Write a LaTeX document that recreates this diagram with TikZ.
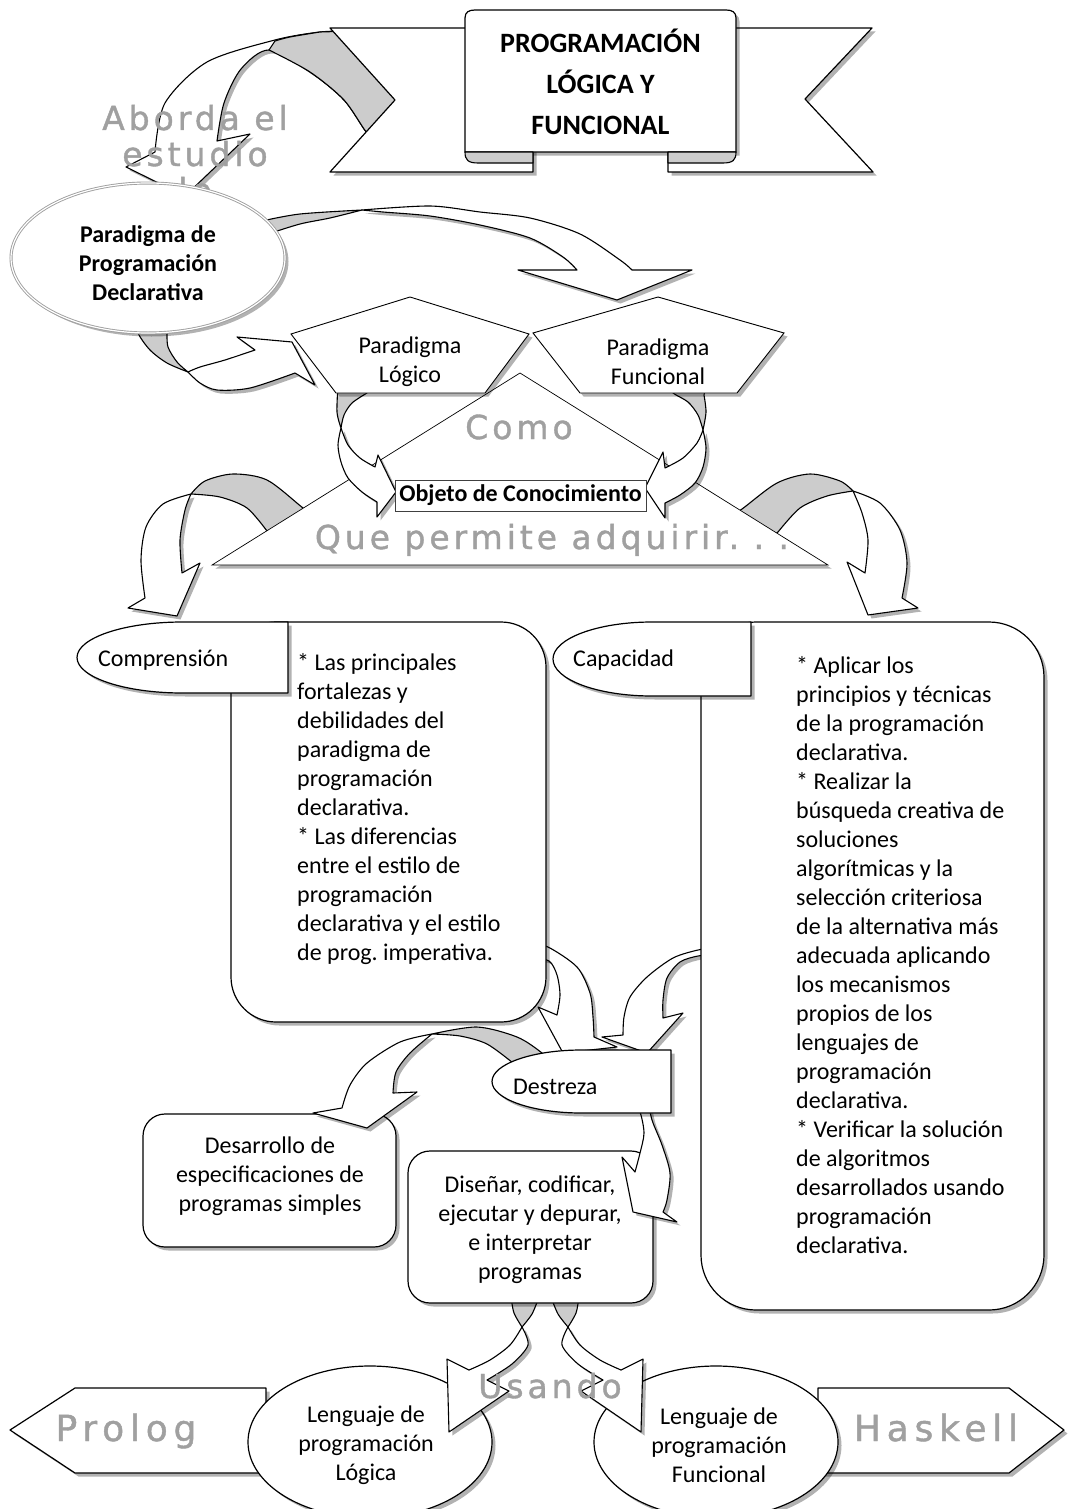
\documentclass[tikz,border=0pt]{standalone}
\usepackage{fontspec}
\setmainfont{Carlito}
\newfontfamily\wordartA{DejaVu Sans}[LetterSpace=12,FakeBold=1.2]
\newfontfamily\wordartB{DejaVu Sans}[LetterSpace=16,FakeBold=1.2]
\usetikzlibrary{shapes.geometric,shadows}
\definecolor{waGray}{RGB}{160,160,160}
\definecolor{foldGray}{RGB}{204,204,204}
\newcommand\myNormal{\fontsize{24}{29}\selectfont}
\newcommand\myBold{\fontsize{24}{29}\selectfont\bfseries}
\newcommand\myTitle{\fontsize{28}{41}\selectfont\bfseries}
\newcommand\myWA{\fontsize{33}{36}\selectfont\wordartA}
\newcommand\myWB{\fontsize{36}{40}\selectfont\wordartB}
\frenchspacing
\begin{document}
\begin{tikzpicture}[x=1pt,y=-1pt,
  shad/.style={drop shadow={shadow xshift=3.5pt,shadow yshift=-3.5pt,opacity=0.3,fill=black}},
  arr/.style={draw=black,fill=white,line width=1.1pt,line join=round,shad},
  fold/.style={draw=black,fill=foldGray,line width=1.1pt,line join=round},
  shp/.style={draw=black,fill=white,line width=1.2pt,line join=round,shad},
  rbox/.style={shp,inner sep=0pt,rectangle},
  txt/.style={font=\myNormal,inner sep=0pt},
  btxt/.style={font=\myBold,inner sep=0pt},
  wa/.style={font=\myWA,text=waGray,inner sep=0pt},
  wb/.style={font=\myWB,text=waGray,inner sep=0pt}]
\useasboundingbox (0,0) rectangle (1069,1509);
\clip (0,0) rectangle (1069,1509);
\fill[white] (0,0) rectangle (1069,1509);

% ---- A1: banner -> declarative paradigm
\path[arr] plot[smooth] coordinates {(352,31) (320,32) (275,40) (207,62) (165,103) (155,152)}
  -- (126,167) -- (185,196) -- (250,134)
  -- plot[smooth] coordinates {(217,141) (224,103) (241,69) (269,50) (310,72) (344,100) (367,133) (385,150)}
  -- (430,100) -- cycle;
\path[fold] plot[smooth] coordinates {(269,50) (310,72) (344,100) (367,133) (385,150)}
  -- (430,100) -- (352,31) -- plot[smooth] coordinates {(320,32) (290,37) (275,41)} -- cycle;

% ---- Banner
\path[shp] (330,28) -- (533,28) -- (533,172) -- (330,172) -- (395,100) -- cycle;
\path[shp] (872,28) -- (668,28) -- (668,172) -- (873,172) -- (805,99) -- cycle;
\path[shp] (465,152) -- (465,18) .. controls (465,12) and (469,10) .. (475,10) -- (726,10)
  .. controls (732,10) and (736,12) .. (736,18) -- (736,152) -- cycle;
\path[fold] (465,152) -- (533,152) -- (533,163) -- (478,163) .. controls (468,163) and (465,160) .. (465,152) -- cycle;
\path[fold] (736,152) -- (668,152) -- (668,163) -- (723,163) .. controls (733,163) and (736,160) .. (736,152) -- cycle;
\node[font=\myTitle,inner sep=0pt,align=center] (title) at (600.5,82) {PROGRAMACIÓN\\LÓGICA Y\\FUNCIONAL};

% ---- Aborda el estudio de
\node[wa,anchor=base] (ab1) at (195,130) {Aborda el};
\node[wa,anchor=base] (ab2) at (195,166) {estudio};
\node[wa,anchor=base] (ab3) at (189,202) {de};

% ---- A2: to Paradigma Funcional
\path[arr] plot[smooth] coordinates {(362,210) (430,206) (480,212) (530,218) (580,234) (620,260) (632,270)}
  -- (692,270) -- (617,300) -- (518,270)
  -- plot[smooth] coordinates {(577,270) (563,257) (530,238) (480,225) (430,216) (383,212) (362,210)} -- cycle;
\path[fold] plot[smooth] coordinates {(262,221) (300,214) (362,210)}
  -- plot[smooth] coordinates {(362,210) (330,218) (300,224) (268,234)} -- cycle;

% ---- A3: to Paradigma Logico
\path[arr] plot[smooth] coordinates {(188,372) (200,367) (225,360) (255,350)}
  -- (237,337) -- (292,342) -- (315,385)
  -- plot[smooth] coordinates {(295,373) (250,388) (217,390) (200,383) (188,372)} -- cycle;
\path[fold] plot[smooth] coordinates {(188,372) (167,363) (150,350) (138,333) (136,318)}
  -- (168,318) -- plot[smooth] coordinates {(167,332) (168,347) (177,362) (188,372)} -- cycle;

% ---- Declarative paradigm ellipse
\node[ellipse,draw=gray!75,double=white,double distance=1.2pt,line width=0.9pt,fill=white,shad,
  minimum width=274pt,minimum height=150pt,inner sep=0pt] (ppd) at (148,258) {};
\node[btxt,align=center] (ppdT) at (148,263) {Paradigma de\\Programación\\Declarativa};

% ---- A6, A7 (under triangle)
\path[arr] plot[smooth] coordinates {(191,494) (163,504) (146,527) (141,560) (145,598)}
  -- (128,608) -- (177,616) -- (200,563)
  -- plot[smooth] coordinates {(182,573) (180,540) (185,510) (191,494)} -- cycle;
\path[fold] plot[smooth] coordinates {(191,494) (205,481) (233,474) (267,480) (303,508) (322,522)}
  -- (292,546) -- plot[smooth] coordinates {(267,531) (247,508) (220,497) (191,494)} -- cycle;
\path[arr] plot[smooth] coordinates {(853,491) (880,503) (900,530) (907,563) (902,598)}
  -- (918,608) -- (868,615) -- (847,562)
  -- plot[smooth] coordinates {(865,573) (868,540) (862,513) (853,491)} -- cycle;
\path[fold] plot[smooth] coordinates {(853,491) (840,481) (810,474) (777,483) (742,509) (722,522)}
  -- (758,546) -- plot[smooth] coordinates {(778,532) (800,508) (827,496) (853,491)} -- cycle;

% ---- Triangle
\path[draw=black,fill=white,line width=0.7pt,shad] (520,373) -- (828,565) -- (212,565) -- cycle;
\node[wa,anchor=base] (como) at (519,439) {Como};
\node[wa,anchor=base] (que) at (552,549) {Que permite adquirir. . .};

% ---- A4, A5
\path[arr] plot[smooth] coordinates {(341,428) (338,445) (341,462) (348,478) (362,492) (377,502)}
  -- (377,517) -- (396,492) -- (378,455)
  -- plot[smooth] coordinates {(375,467) (360,458) (348,445) (341,428)} -- cycle;
\path[fold] plot[smooth] coordinates {(341,428) (337,412) (338,385)}
  -- (372,385) -- plot[smooth] coordinates {(367,393) (352,403) (344,415) (341,428)} -- cycle;
\path[arr] plot[smooth] coordinates {(703,430) (706,448) (703,467) (695,483) (680,495) (665,503)}
  -- (665,518) -- (645,488) -- (663,452)
  -- plot[smooth] coordinates {(665,468) (683,458) (697,443) (703,430)} -- cycle;
\path[fold] plot[smooth] coordinates {(703,430) (698,415) (688,402) (673,393) (668,385)}
  -- (706,385) -- plot[smooth] coordinates {(704,395) (706,412) (703,430)} -- cycle;

% ---- Pentagons
\path[draw=black,fill=white,line width=0.9pt,shad] (410,297) -- (529,334) -- (485,393) -- (336,393) -- (291,334) -- cycle;
\path[draw=black,fill=white,line width=0.9pt,shad] (658,297) -- (784,333) -- (737,393) -- (580,393) -- (533,333) -- cycle;
\node[txt,align=center] (plog) at (410,362) {Paradigma\\Lógico};
\node[txt,align=center] (pfun) at (658,362) {Paradigma\\Funcional};

% ---- Objeto de Conocimiento
\node[draw=black!75,line width=0.8pt,fill=white,minimum width=251pt,minimum height=31pt,inner sep=0pt,font=\myBold] (objeto) at (520.5,495.5) {Objeto de Conocimiento};

% ---- A8, A9 (under boxes)
\path[arr] plot[smooth] coordinates {(530,944) (548,947) (577,967) (590,993) (593,1017) (594,1037)}
  -- (617,1047) -- (563,1053) -- (538,1007)
  -- plot[smooth] coordinates {(557,1015) (560,995) (557,975) (549,961) (530,957)} -- cycle;
\path[arr] plot[smooth] coordinates {(715,948) (698,950) (673,958) (647,977) (630,997) (624,1017) (623,1035)}
  -- (602,1037) -- (647,1053) -- (683,1013)
  -- plot[smooth] coordinates {(663,1018) (663,1000) (667,978) (680,962) (698,956) (715,955)} -- cycle;

% ---- Comprension
\node[rbox,rounded corners=45pt,minimum width=315pt,minimum height=400pt] (comp) at (388.5,822) {};
\path[shp] (288,622) -- (182.5,622) .. controls (124.2,622) and (77,637.9) .. (77,657.5)
  .. controls (77,677.1) and (124.2,693) .. (182.5,693) -- (288,693) -- cycle;
\node[txt,anchor=west] (compL) at (98,660) {Comprensión};
\node[txt,align=left,anchor=north west] (compT) at (297,650) {\strut* Las principales\\fortalezas y\\debilidades del\\paradigma de\\programación\\declarativa.\\{}* Las diferencias\\entre el estilo de\\programación\\declarativa y el estilo\\de prog. imperativa.};

% ---- Capacidad
\node[rbox,rounded corners=55pt,minimum width=343pt,minimum height=688pt] (cap) at (872.5,966) {};
\path[shp] (751,622) -- (652,622) .. controls (597.3,622) and (553,638.6) .. (553,659)
  .. controls (553,679.4) and (597.3,696) .. (652,696) -- (751,696) -- cycle;
\node[txt,anchor=west] (capL) at (573,660) {Capacidad};
\node[txt,align=left,anchor=north west] (capT) at (796,653) {\strut* Aplicar los\\principios y técnicas\\de la programación\\declarativa.\\{}* Realizar la\\búsqueda creativa de\\soluciones\\algorítmicas y la\\selección criteriosa\\de la alternativa más\\adecuada aplicando\\los mecanismos\\propios de los\\lenguajes de\\programación\\declarativa.\\{}* Verificar la solución\\de algoritmos\\desarrollados usando\\programación\\declarativa.};

% ---- Prolog / Haskell
\path[shp] (266,1388) -- (75,1388) -- (10,1430) -- (75,1473) -- (266,1473) -- cycle;
\path[shp] (818,1388) -- (1009,1388) -- (1064,1430) -- (1009,1473) -- (818,1473) -- cycle;
\node[wb,anchor=base] (prolog) at (126,1441) {Prolog};
\node[wb,anchor=base] (haskell) at (936,1441) {Haskell};

% ---- Lenguaje ellipses
\node[ellipse,shp,minimum width=244pt,minimum height=152pt,inner sep=0pt] (lenlog) at (370,1442) {};
\node[ellipse,shp,minimum width=244pt,minimum height=152pt,inner sep=0pt] (lenfun) at (716,1442) {};
\node[txt,align=center] (lenlogT) at (366,1445) {Lenguaje de\\programación\\Lógica};
\node[txt,align=center] (lenfunT) at (719,1445) {Lenguaje de\\programación\\Funcional};

% ---- Desarrollo
\node[rbox,rounded corners=22pt,minimum width=253pt,minimum height=133pt] (desa) at (269.5,1180.5) {};
\node[txt,align=center] (desaT) at (270,1176) {Desarrollo de\\especificaciones de\\programas simples};

% ---- A10
\path[arr] plot[smooth] coordinates {(432,1034) (400,1042) (367,1063) (350,1085) (342,1108)}
  -- (313,1113) -- (367,1128) -- (417,1092)
  -- plot[smooth] coordinates {(393,1093) (396,1072) (410,1053) (432,1034)} -- cycle;
\path[fold] plot[smooth] coordinates {(432,1034) (477,1027) (517,1037) (542,1053) (562,1072)}
  -- (535,1078) -- plot[smooth] coordinates {(513,1063) (487,1044) (460,1036) (432,1034)} -- cycle;

% ---- A12, A13
\path[arr] plot[smooth] coordinates {(522,1327) (510,1345) (490,1360) (469,1370)}
  -- (447,1359) -- (449,1432) -- (509,1391)
  -- plot[smooth] coordinates {(487,1380) (512,1364) (528,1345) (522,1327)} -- cycle;
\path[fold] plot[smooth] coordinates {(511,1297) (514,1313) (522,1327)}
  -- plot[smooth] coordinates {(522,1327) (532,1314) (539,1297)} -- cycle;
\path[arr] plot[smooth] coordinates {(568,1327) (580,1345) (600,1360) (621,1370)}
  -- (643,1359) -- (641,1432) -- (581,1391)
  -- plot[smooth] coordinates {(603,1380) (578,1364) (562,1345) (568,1327)} -- cycle;
\path[fold] plot[smooth] coordinates {(579,1297) (576,1313) (568,1327)}
  -- plot[smooth] coordinates {(568,1327) (558,1314) (551,1297)} -- cycle;

% ---- Disenar
\node[rbox,rounded corners=22pt,minimum width=245pt,minimum height=152pt] (dise) at (530.5,1227) {};
\node[txt,align=center] (diseT) at (530,1229.5) {Diseñar, codificar,\\ejecutar y depurar,\\e interpretar\\programas};

% ---- A11
\path[arr] plot[smooth] coordinates {(648,1100) (652,1120) (662,1145) (670,1173) (667,1200) (663,1212)}
  -- (677,1222) -- (633,1212) -- (622,1157)
  -- plot[smooth] coordinates {(635,1172) (640,1153) (644,1133) (640,1112) (632,1100)} -- cycle;

% ---- Destreza
\path[shp] (671,1050) -- (581.5,1050) .. controls (532.1,1050) and (492,1064.1) .. (492,1081.5)
  .. controls (492,1098.9) and (532.1,1113) .. (581.5,1113) -- (671,1113) -- cycle;
\node[txt,anchor=west] (destL) at (513,1087) {Destreza};

% ---- Usando
\node[wa,anchor=base] (usando) at (550,1398) {Usando};
\end{tikzpicture}
\end{document}
